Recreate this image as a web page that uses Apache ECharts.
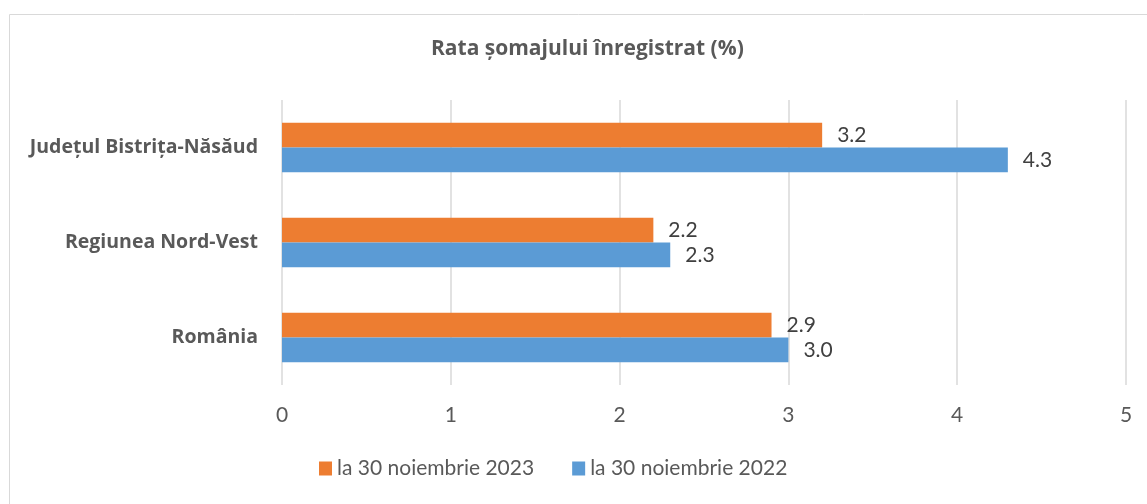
<!DOCTYPE html>
<html>
<head>
<meta charset="utf-8">
<script src="https://cdn.jsdelivr.net/npm/echarts@6/dist/echarts.min.js"></script>
<style>
  html, body { margin: 0; padding: 0; background: #fff; }
  #chart { width: 1147px; height: 504px; }
</style>
</head>
<body>
<div id="chart"></div>
<script>
const categories = ['Județul Bistrița-Năsăud', 'Regiunea Nord-Vest', 'România']
const series2023 = [3.2, 2.2, 2.9]
const series2022 = [4.3, 2.3, 3.0]
const seriesNames = ['la 30 noiembrie 2023', 'la 30 noiembrie 2022']
const titleText = 'Rata șomajului înregistrat (%)'

const font = 'Lato, "Open Sans", sans-serif'
const boldFont = '"Open Sans", Lato, sans-serif'
const myCharts = echarts.init(document.getElementById('chart'))

const barLabel = {
  show: true,
  position: 'right',
  distance: 15,
  color: '#404040',
  fontSize: 21,
  fontFamily: font,
  formatter: p => p.value.toFixed(1)
}

myCharts.setOption({
  animation: false,
  graphic: [
    {
      type: 'rect',
      shape: { x: 9.5, y: 14.5, width: 1200, height: 600 },
      style: { fill: 'none', stroke: '#d9d9d9', lineWidth: 1 },
      silent: true
    }
  ],
  title: {
    text: titleText,
    left: 426,
    top: 34,
    textStyle: {
      color: '#595959',
      fontSize: 21,
      fontWeight: 'bold',
      fontFamily: boldFont
    }
  },
  legend: {
    bottom: 20,
    left: 314,
    itemWidth: 13,
    itemHeight: 14,
    itemGap: 38,
    icon: 'rect',
    textStyle: { color: '#595959', fontSize: 21, fontFamily: font },
    data: seriesNames
  },
  grid: {
    left: 282,
    right: 21,
    top: 100,
    bottom: 119
  },
  xAxis: {
    type: 'value',
    min: 0,
    max: 5,
    interval: 1,
    axisLine: { show: false },
    axisTick: { show: false },
    splitLine: { lineStyle: { color: '#d9d9d9', width: 1.5 } },
    axisLabel: { color: '#595959', fontSize: 21, fontFamily: font, margin: 20 }
  },
  yAxis: {
    type: 'category',
    inverse: true,
    data: categories,
    axisLine: { show: false },
    axisTick: { show: false },
    axisLabel: {
      color: '#595959',
      fontSize: 19.5,
      fontWeight: 'bold',
      fontFamily: boldFont,
      margin: 24
    }
  },
  series: [
    {
      name: seriesNames[0],
      type: 'bar',
      data: series2023,
      barCategoryGap: '48%',
      barGap: '0%',
      itemStyle: { color: '#ed7d31' },
      label: barLabel
    },
    {
      name: seriesNames[1],
      type: 'bar',
      data: series2022,
      barCategoryGap: '48%',
      barGap: '0%',
      itemStyle: { color: '#5b9bd5' },
      label: barLabel
    }
  ]
})
</script>
</body>
</html>
